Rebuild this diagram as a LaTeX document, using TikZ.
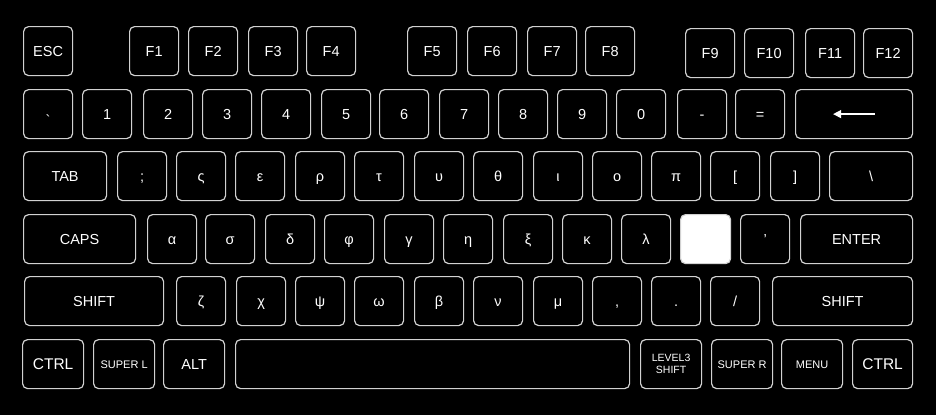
\documentclass[tikz,border=0pt]{standalone}
\usepackage{fontspec}
\setmainfont{Liberation Sans}
\usetikzlibrary{arrows.meta}

\begin{document}
\begin{tikzpicture}[x=1pt,y=-1pt,
		key/.style={draw=white!82!black, line width=1.2pt, rounded corners=5pt, text=white,
			minimum width=49pt, minimum height=49pt, inner sep=0pt, anchor=north west,
			text height=10.4pt, text depth=0pt, font=\fontsize{14.5}{16}\selectfont},
		smallkey/.style={key, text height=8pt, font=\fontsize{11}{12.5}\selectfont}]
		\fill[black] (0,0) rectangle (936,415);
		\useasboundingbox (0,0) rectangle (936,415);
		% function keys
		\node[key] (k-esc) at (23,26) {ESC};
		\foreach \x/\n in {129/1, 188/2, 248/3, 306/4, 407/5, 467/6, 527/7, 585/8}
			\node[key] (k-f\n) at (\x,26) {F\n};
		\foreach \x/\n in {685/9, 744/10, 805/11, 863/12}
			\node[key] (k-f\n) at (\x,28) {F\n};
		% number row
		\node[key] (k-grave) at (23,89) {\raisebox{-0.42em}{\textasciigrave}};
		\foreach \x/\n/\t in {82/one/1, 143/two/2, 202/three/3, 261/four/4, 321/five/5, 379/six/6,
			439/seven/7, 498/eight/8, 557/nine/9, 616/zero/0, 677/minus/-, 735/equal/=}
			\node[key] (k-\n) at (\x,89) {\t};
		\node[key, minimum width=117pt] (k-bksp) at (795,89) {};
		\draw[white, line width=1.3pt, {Triangle[length=8pt,width=8pt]}-]
			([xshift=-21pt]k-bksp.center) -- ([xshift=21pt]k-bksp.center);
		% top letter row
		\node[key, minimum width=83pt] (k-tab) at (23,151) {TAB};
		\foreach \x/\n/\t in {117/semi/;, 176/fsigma/ς, 235/epsilon/ε, 295/rho/ρ, 354/tau/τ,
			414/upsilon/υ, 473/theta/θ, 533/iota/ι, 592/omicron/ο, 651/pi/π, 710/lbrack/{[}, 770/rbrack/{]}}
			\node[key] (k-\n) at (\x,151) {\t};
		\node[key, minimum width=83pt] (k-bslash) at (829,151) {\textbackslash};
		% home row
		\node[key, minimum width=112pt] (k-caps) at (23,214) {CAPS};
		\foreach \x/\n/\t in {147/alpha/α, 205/sigma/σ, 265/delta/δ, 324/phi/φ, 384/gamma/γ,
			443/eta/η, 503/xi/ξ, 562/kappa/κ, 621/lambda/λ}
			\node[key] (k-\n) at (\x,214) {\t};
		\node[key, fill=white, minimum width=50pt] (k-blank) at (680,214) {};
		\node[key] (k-quote) at (740,214) {'};
		\node[key, minimum width=112pt] (k-enter) at (800,214) {ENTER};
		% bottom letter row
		\node[key, minimum width=139pt] (k-lshift) at (24,276) {SHIFT};
		\foreach \x/\n/\t in {176/zeta/ζ, 236/chi/χ, 295/psi/ψ, 354/omega/ω, 414/beta/β,
			473/nu/ν, 533/mu/μ, 592/comma/{,}, 651/period/., 710/slash/{/}}
			\node[key] (k-\n) at (\x,276) {\t};
		\node[key, minimum width=140pt] (k-rshift) at (772,276) {SHIFT};
		% space row
		\node[key, minimum width=61pt, text height=11pt, font=\fontsize{15.5}{17}\selectfont] (k-lctrl) at (22,339) {CTRL};
		\node[smallkey, minimum width=61pt] (k-superl) at (93,339) {SUPER L};
		\node[key, minimum width=61pt] (k-alt) at (163,339) {ALT};
		\node[key, minimum width=394pt] (k-space) at (235,339) {};
		\node[key, minimum width=61pt, text height=, text depth=, align=center,
			font=\fontsize{10.5}{12}\selectfont] (k-lvl3) at (640,339) {LEVEL3\\SHIFT};
		\node[smallkey, minimum width=61pt] (k-superr) at (711,339) {SUPER R};
		\node[smallkey, minimum width=61pt] (k-menu) at (781,339) {MENU};
		\node[key, minimum width=60pt, text height=11pt, font=\fontsize{15.5}{17}\selectfont] (k-rctrl) at (852,339) {CTRL};
	\end{tikzpicture}
\end{document}
